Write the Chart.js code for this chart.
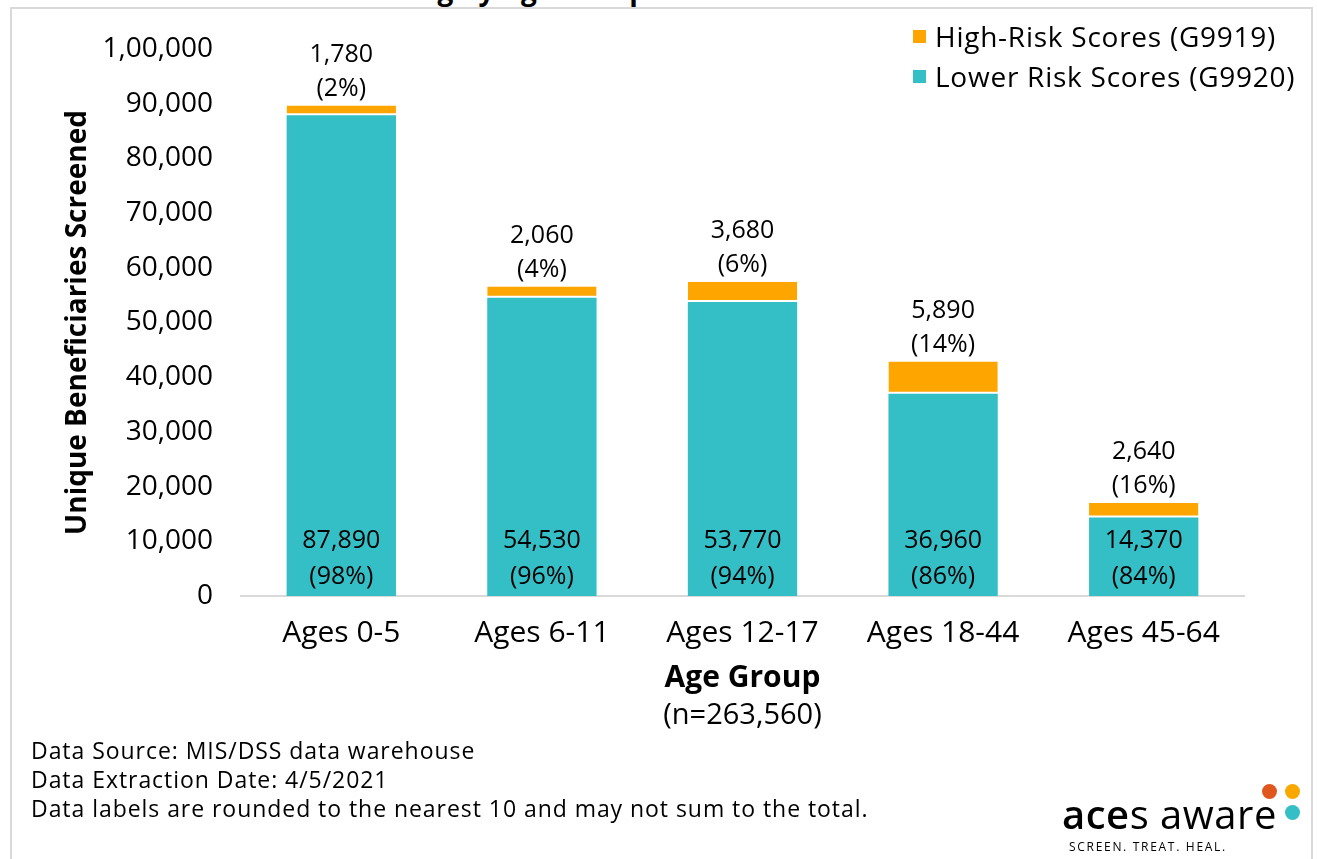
<!DOCTYPE html>
<html>
<head>
<meta charset="utf-8">
<script src="https://cdn.jsdelivr.net/npm/chart.js@4.4.1/dist/chart.umd.min.js"></script>
<style>
  html, body { margin: 0; padding: 0; background: #fff; overflow: hidden; }
  body { width: 1317px; height: 859px; position: relative; font-family: 'Open Sans', sans-serif; color: #000; }
  #frame { position: absolute; left: 10px; top: 7px; width: 1303px; height: 880px; border: 2px solid #d9d9d9; box-sizing: border-box; }
  #cut-title { position: absolute; right: 670px; top: -25px; font-size: 28px; font-weight: bold; line-height: 28px; white-space: nowrap; }
  canvas { position: absolute; left: 0; top: 0; }
  .leg { position: absolute; left: 913px; font-size: 28px; line-height: 34px; letter-spacing: 0.75px; white-space: nowrap; }
  .leg i { position: absolute; left: 0; top: 11px; width: 13px; height: 13px; }
  .leg span { position: absolute; left: 22px; top: 0; }
  #n { position: absolute; left: 0; width: 1485px; top: 695px; text-align: center; font-size: 29px; line-height: 36px; }
  #notes { position: absolute; left: 31px; top: 736px; font-size: 23px; line-height: 29px; letter-spacing: 0.95px; white-space: nowrap; }
  .dot { position: absolute; width: 15px; height: 15px; border-radius: 50%; }
  #logotext { position: absolute; left: 1062px; top: 792px; font-size: 40px; line-height: 44px; letter-spacing: 0.5px; white-space: nowrap; }
  #tag { position: absolute; left: 1069px; top: 840px; font-size: 12px; line-height: 14px; letter-spacing: 1.7px; white-space: nowrap; }
</style>
</head>
<body>
<div id="frame"></div>
<div id="cut-title">Screening by Age Group</div>
<canvas id="chart" width="1317" height="859"></canvas>

<div class="leg" style="top:19px"><i style="background:#FFA500"></i><span>High-Risk Scores (G9919)</span></div>
<div class="leg" style="top:59px"><i style="background:#34BFC6"></i><span>Lower Risk Scores (G9920)</span></div>

<div id="n">(n=263,560)</div>

<div id="notes">
  Data Source: MIS/DSS data warehouse<br>
  Data Extraction Date: 4/5/2021<br>
  Data labels are rounded to the nearest 10 and may not sum to the total.
</div>

<span class="dot" style="left:1262px;top:784px;background:#E0571D"></span>
<span class="dot" style="left:1285px;top:784px;background:#F9A800"></span>
<span class="dot" style="left:1285px;top:805px;background:#34BFC6"></span>
<div id="logotext"><span style="font-weight:600">ace</span>s aware</div>
<div id="tag">SCREEN. TREAT. HEAL.</div>

<script>
// données
const categories = ['Ages 0-5', 'Ages 6-11', 'Ages 12-17', 'Ages 18-44', 'Ages 45-64'];
const lowerRisk = [87890, 54530, 53770, 36960, 14370];
const highRisk = [1780, 2060, 3680, 5890, 2640];
const yTickLabels = ['0', '10,000', '20,000', '30,000', '40,000', '50,000', '60,000', '70,000', '80,000', '90,000', '1,00,000'];

const ORANGE = '#FFA500';
const TEAL = '#34BFC6';
const FONT = "'Open Sans', sans-serif";

const fmt = v => v.toLocaleString('en-US');

// Étiquettes des barres (valeur + pourcentage)
const barLabels = {
  id: 'barLabels',
  afterDatasetsDraw(chart) {
    const ctx = chart.ctx;
    ctx.save();
    ctx.font = "25px " + FONT;
    ctx.fillStyle = '#000';
    ctx.textAlign = 'center';
    ctx.textBaseline = 'middle';

    chart.getDatasetMeta(0).data.forEach((bar, i) => {
      const total = lowerRisk[i] + highRisk[i];
      ctx.fillText(fmt(lowerRisk[i]), bar.x, bar.base - 55);
      ctx.fillText('(' + Math.round(lowerRisk[i] / total * 100) + '%)', bar.x, bar.base - 19);
    });

    chart.getDatasetMeta(1).data.forEach((bar, i) => {
      const total = lowerRisk[i] + highRisk[i];
      ctx.fillText(fmt(highRisk[i]), bar.x, bar.y - 51);
      ctx.fillText('(' + Math.round(highRisk[i] / total * 100) + '%)', bar.x, bar.y - 17);
    });
    ctx.restore();
  }
};

Chart.defaults.font.family = FONT;
Chart.defaults.color = '#000';

new Chart(document.getElementById('chart').getContext('2d'), {
  type: 'bar',
  data: {
    labels: categories,
    datasets: [
      {
        label: 'Lower Risk Scores (G9920)',
        data: lowerRisk,
        backgroundColor: TEAL,
        borderWidth: 0,
        categoryPercentage: 1,
        barPercentage: 0.545
      },
      {
        label: 'High-Risk Scores (G9919)',
        data: highRisk,
        backgroundColor: ORANGE,
        borderColor: '#fff',
        borderWidth: { top: 0, left: 0, right: 0, bottom: 2 },
        borderSkipped: false,
        categoryPercentage: 1,
        barPercentage: 0.545
      }
    ]
  },
  options: {
    responsive: false,
    animation: false,
    layout: { padding: { left: 50, top: 49, right: 73, bottom: 120 } },
    plugins: {
      legend: { display: false },
      tooltip: { enabled: false }
    },
    scales: {
      x: {
        stacked: true,
        grid: { display: false, drawTicks: false },
        border: { color: '#d9d9d9', width: 2 },
        ticks: { font: { size: 30 }, color: '#000', padding: 19 },
        title: {
          display: true,
          text: 'Age Group',
          font: { size: 30, weight: 'bold' },
          color: '#000',
          padding: { top: 0, bottom: 43 }
        },
        afterFit(s) { s.height = 143; }
      },
      y: {
        stacked: true,
        min: 0,
        max: 100000,
        grid: { display: false, drawTicks: false },
        border: { display: false },
        ticks: {
          stepSize: 10000,
          font: { size: 28 },
          color: '#000',
          padding: 28,
          callback: v => yTickLabels[Math.round(v / 10000)]
        },
        title: {
          display: true,
          text: 'Unique Beneficiaries Screened',
          font: { size: 28, weight: 'bold' },
          color: '#000',
          padding: { top: 11, bottom: 0 }
        },
        afterFit(s) { s.width = 191; }
      }
    }
  },
  plugins: [barLabels]
});
</script>
</body>
</html>
